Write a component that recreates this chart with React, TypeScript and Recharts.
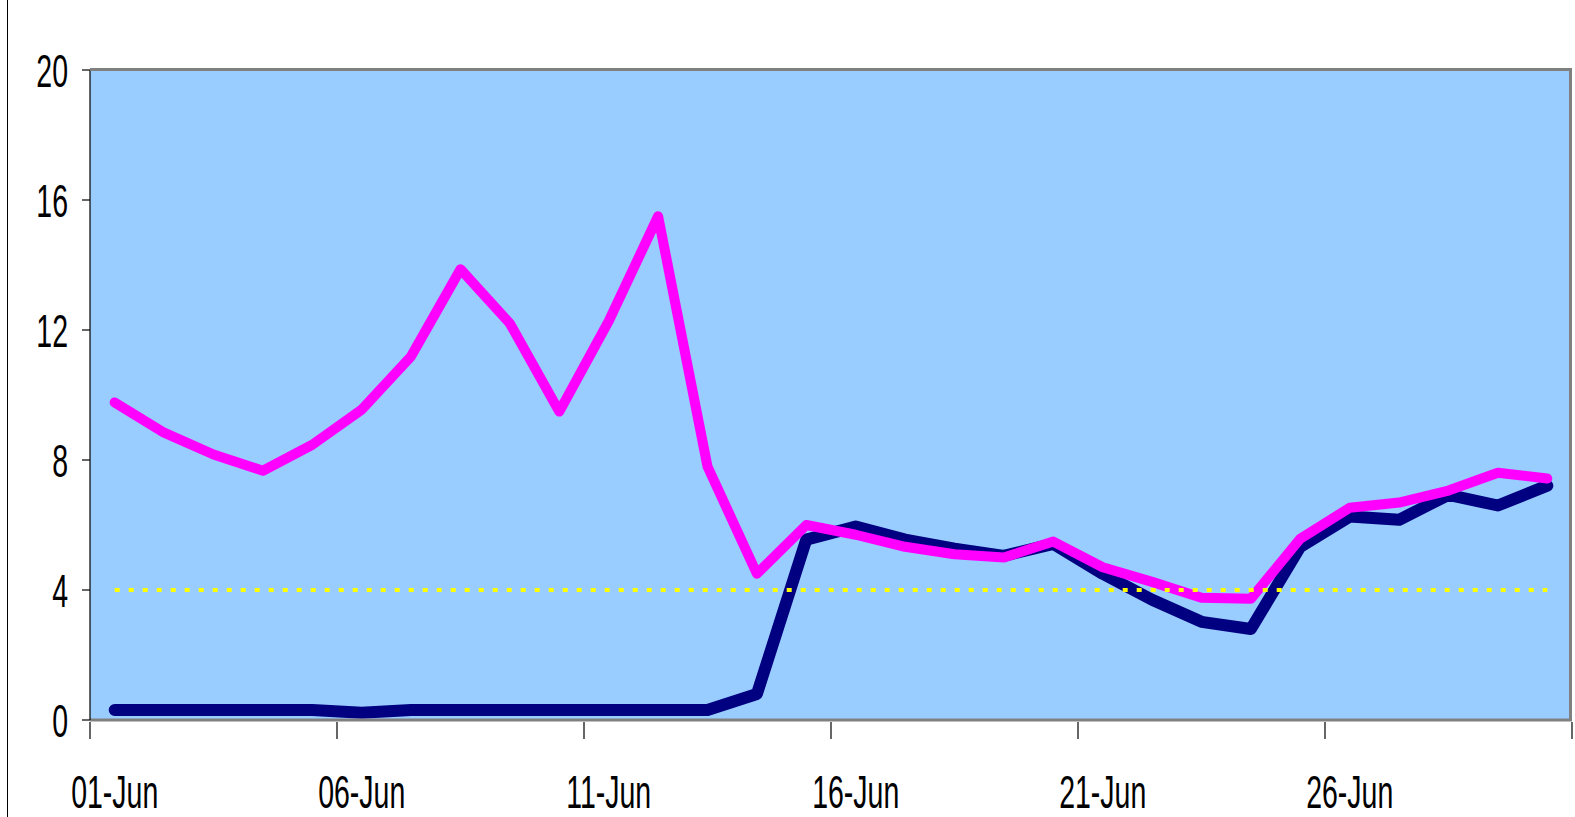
import { LineChart, Line, XAxis, YAxis, CartesianGrid } from "recharts";

const days = [
  "01-Jun", "02-Jun", "03-Jun", "04-Jun", "05-Jun", "06-Jun", "07-Jun", "08-Jun", "09-Jun", "10-Jun",
  "11-Jun", "12-Jun", "13-Jun", "14-Jun", "15-Jun", "16-Jun", "17-Jun", "18-Jun", "19-Jun", "20-Jun",
  "21-Jun", "22-Jun", "23-Jun", "24-Jun", "25-Jun", "26-Jun", "27-Jun", "28-Jun", "29-Jun", "30-Jun",
];
const pinkValues = [
  9.77, 8.84, 8.17, 7.67, 8.47, 9.55, 11.19, 13.87, 12.2, 9.49,
  12.27, 15.5, 7.8, 4.5, 6.0, 5.7, 5.33, 5.1, 5.0, 5.49,
  4.7, 4.25, 3.76, 3.73, 5.58, 6.53, 6.69, 7.06, 7.61, 7.43,
];
const navyValues = [
  0.31, 0.31, 0.31, 0.31, 0.31, 0.22, 0.31, 0.31, 0.31, 0.31,
  0.31, 0.31, 0.31, 0.8, 5.55, 5.95, 5.55, 5.27, 5.05, 5.42,
  4.5, 3.7, 3.02, 2.8, 5.33, 6.26, 6.16, 6.93, 6.6, 7.21,
];
const limitValues = [
  4, 4, 4, 4, 4, 4, 4, 4, 4, 4,
  4, 4, 4, 4, 4, 4, 4, 4, 4, 4,
  4, 4, 4, 4, 4, 4, 4, 4, 4, 4,
];
const yTicks = [0, 4, 8, 12, 16, 20];

const data = days.map((d, i) => ({
  day: d,
  pink: pinkValues[i],
  navy: navyValues[i],
  limit: limitValues[i],
}));

const W = 1575;
const H = 817;
const PLOT_LEFT = 90;
const PLOT_RIGHT = 1572;
const PLOT_TOP = 70;
const PLOT_BOTTOM = 720;
const BAND = (PLOT_RIGHT - PLOT_LEFT) / days.length;
const FONT = "'Liberation Sans Narrow', 'Arial Narrow', 'Liberation Sans', Arial, sans-serif";
const FONT_SIZE = 28.5;
const STRETCH = 1.62;

const XTick = (props: any) => {
  const { x, y, index, payload } = props;
  const half = BAND / 2;
  const major = index % 5 === 0;
  return (
    <g>
      {major && <line x1={x - half} x2={x - half} y1={y} y2={y + 17} stroke="#000" strokeWidth={1.2} />}
      {index === days.length - 1 && (
        <line x1={x + half} x2={x + half} y1={y} y2={y + 17} stroke="#000" strokeWidth={1.2} />
      )}
      {major && (
        <text
          transform={`translate(${x}, ${y + 86}) scale(1, ${STRETCH})`}
          textAnchor="middle"
          fontSize={FONT_SIZE}
          fontFamily={FONT}
          fill="#000"
        >
          {payload.value}
        </text>
      )}
    </g>
  );
};

const YTick = (props: any) => {
  const { x, y, payload } = props;
  return (
    <text
      transform={`translate(${x}, ${y + 16.5}) scale(1, ${STRETCH})`}
      textAnchor="end"
      fontSize={FONT_SIZE}
      fontFamily={FONT}
      fill="#000"
    >
      {payload.value}
    </text>
  );
};

export default function App() {
  return (
    <div style={{ position: "absolute", left: 0, top: 0, width: W, height: H, background: "#fff" }}>
      <div style={{ position: "absolute", left: 7, top: 0, width: 0, height: H, borderLeft: "1.5px solid #000" }} />
      <LineChart
        width={W}
        height={H}
        data={data}
        margin={{ top: PLOT_TOP, right: W - PLOT_RIGHT, bottom: 0, left: 0 }}
      >
        <CartesianGrid horizontal={false} vertical={false} fill="#99CCFF" />
        <XAxis
          dataKey="day"
          interval={0}
          height={H - PLOT_BOTTOM}
          padding={{ left: BAND / 2, right: BAND / 2 }}
          tickSize={0}
          tickLine={false}
          axisLine={{ stroke: "#808080", strokeWidth: 3 }}
          tick={<XTick />}
        />
        <YAxis
          width={PLOT_LEFT}
          domain={[0, 20]}
          ticks={yTicks}
          interval={0}
          tickSize={8}
          tickMargin={14}
          axisLine={{ stroke: "#000", strokeWidth: 1.2 }}
          tickLine={{ stroke: "#000", strokeWidth: 1.2 }}
          tick={<YTick />}
        />
        <Line
          dataKey="navy"
          stroke="#000080"
          strokeWidth={12}
          dot={false}
          strokeLinecap="round"
          strokeLinejoin="round"
          isAnimationActive={false}
        />
        <Line
          dataKey="pink"
          stroke="#FF00FF"
          strokeWidth={10}
          dot={false}
          strokeLinecap="round"
          strokeLinejoin="round"
          isAnimationActive={false}
        />
        <Line
          dataKey="limit"
          stroke="#FFFF00"
          strokeWidth={4}
          strokeDasharray="5 9"
          dot={false}
          isAnimationActive={false}
        />
      </LineChart>
      <div
        style={{
          position: "absolute",
          left: PLOT_LEFT,
          top: PLOT_TOP - 2,
          width: PLOT_RIGHT - PLOT_LEFT,
          height: PLOT_BOTTOM - PLOT_TOP + 2,
          borderTop: "3px solid #808080",
          borderRight: "3px solid #808080",
          boxSizing: "border-box",
          pointerEvents: "none",
        }}
      />
    </div>
  );
}
